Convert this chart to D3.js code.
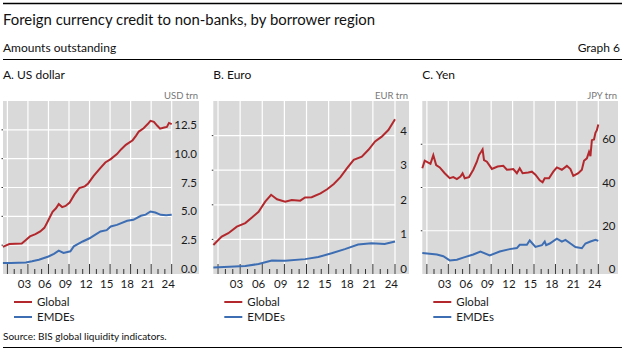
<!DOCTYPE html>
<html>
<head>
<meta charset="utf-8">
<script src="https://cdn.jsdelivr.net/npm/d3@7"></script>
<style>
  body { margin: 0; background: #fff; }
  text { font-family: Lato, "Noto Sans", sans-serif; }
</style>
</head>
<body>
<div id="chart"></div>
<script>
// data (time in decimal years)
var usdGlobalT = [2000.35, 2000.9, 2001.3, 2002.2, 2003.1, 2003.7, 2004.3, 2005.1, 2005.8, 2006.4, 2006.8, 2007.6, 2008.1, 2008.5, 2009.0, 2009.5, 2010.1, 2010.8, 2011.5, 2012.3, 2012.8, 2013.6, 2014.6, 2015.3, 2016.1, 2017.0, 2017.6, 2018.3, 2019.3, 2019.8, 2020.2, 2020.9, 2021.5, 2021.9, 2022.4, 2022.9, 2023.3, 2023.9, 2024.3, 2024.6, 2025.0];
var usdGlobalV = [2.35, 2.5, 2.6, 2.62, 2.65, 2.95, 3.26, 3.45, 3.69, 4.0, 4.45, 5.4, 5.7, 6.06, 5.8, 5.9, 6.2, 6.9, 7.45, 7.6, 7.85, 8.5, 9.2, 9.67, 9.96, 10.4, 10.8, 11.2, 11.6, 12.0, 12.35, 12.64, 13.0, 13.28, 13.2, 12.85, 12.6, 12.7, 12.75, 13.1, 13.0];
var usdEmdeT = [2000.35, 2001.5, 2003.7, 2004.6, 2005.6, 2007.0, 2007.8, 2008.5, 2009.2, 2010.2, 2010.7, 2012.0, 2013.0, 2013.8, 2014.6, 2015.5, 2016.1, 2017.0, 2018.5, 2019.4, 2020.5, 2021.2, 2021.9, 2022.6, 2023.4, 2024.2, 2025.0];
var usdEmdeV = [0.95, 0.95, 1.0, 1.1, 1.24, 1.52, 1.75, 2.02, 1.82, 1.97, 2.4, 2.82, 3.1, 3.4, 3.69, 3.8, 4.12, 4.26, 4.61, 4.7, 5.05, 5.15, 5.42, 5.33, 5.13, 5.1, 5.13];

var eurGlobalT = [2000.37, 2001.5, 2002.4, 2003.55, 2004.7, 2005.6, 2006.5, 2007.4, 2008.2, 2009.0, 2010.1, 2011.0, 2012.15, 2012.8, 2013.7, 2014.9, 2015.8, 2016.7, 2017.6, 2018.5, 2019.4, 2020.5, 2021.4, 2022.3, 2023.2, 2024.1, 2025.0];
var eurGlobalV = [0.84, 1.08, 1.18, 1.37, 1.47, 1.63, 1.8, 2.09, 2.29, 2.16, 2.09, 2.14, 2.12, 2.21, 2.22, 2.33, 2.45, 2.6, 2.8, 3.06, 3.3, 3.39, 3.59, 3.83, 3.97, 4.16, 4.47];
var eurEmdeT = [2000.37, 2004.7, 2006.5, 2008.3, 2010.1, 2012.8, 2014.6, 2016.4, 2018.2, 2020.0, 2021.8, 2023.6, 2025.0];
var eurEmdeV = [0.19, 0.23, 0.29, 0.39, 0.38, 0.43, 0.49, 0.6, 0.72, 0.85, 0.89, 0.87, 0.94];

var jpyGlobalT = [2000.36, 2000.7, 2001.2, 2001.5, 2001.9, 2002.3, 2002.8, 2003.5, 2004.2, 2004.7, 2005.2, 2005.7, 2006.0, 2006.3, 2006.9, 2007.5, 2008.0, 2008.3, 2008.6, 2008.8, 2009.0, 2009.4, 2010.1, 2010.9, 2011.7, 2012.2, 2013.1, 2013.6, 2014.0, 2014.4, 2015.2, 2015.7, 2016.2, 2016.8, 2017.2, 2017.5, 2018.1, 2018.7, 2019.2, 2019.9, 2020.6, 2021.1, 2021.5, 2022.2, 2022.7, 2023.0, 2023.4, 2023.7, 2023.9, 2024.1, 2024.4, 2024.6, 2024.8, 2025.0];
var jpyGlobalV = [48.9, 52.4, 51.5, 51.0, 55.0, 50.4, 49.3, 46.6, 44.3, 44.8, 43.9, 45.1, 46.6, 44.3, 44.8, 48.2, 51.9, 55.0, 56.5, 57.6, 52.7, 51.9, 48.6, 49.7, 50.0, 48.2, 48.5, 46.6, 48.9, 46.6, 46.9, 47.3, 45.9, 43.3, 42.4, 44.3, 44.3, 47.3, 49.3, 48.2, 50.0, 48.5, 45.4, 46.6, 48.2, 52.4, 53.5, 56.5, 54.5, 61.9, 62.2, 65.3, 66.5, 69.1];
var jpyEmdeT = [2000.36, 2002.4, 2003.3, 2004.2, 2005.2, 2006.3, 2007.5, 2008.5, 2009.8, 2011.2, 2012.6, 2013.6, 2014.0, 2015.0, 2015.4, 2016.2, 2017.1, 2017.5, 2017.7, 2018.2, 2019.2, 2019.9, 2020.4, 2021.1, 2021.8, 2022.7, 2023.2, 2023.9, 2024.6, 2025.0];
var jpyEmdeV = [9.7, 9.0, 8.2, 6.3, 6.6, 7.8, 9.0, 10.4, 8.6, 10.4, 11.5, 12.0, 13.5, 13.5, 15.5, 12.5, 13.3, 15.0, 13.3, 14.1, 16.3, 15.0, 15.8, 14.1, 12.5, 11.9, 14.1, 15.0, 15.8, 15.3];

var yearTicks = d3.range(2001, 2026);
var yearLabels = [2003, 2006, 2009, 2012, 2015, 2018, 2021, 2024];

var panelTitles = ["A. US dollar", "B. Euro", "C. Yen"];
var units = ["USD trn", "EUR trn", "JPY trn"];
var yMax = [15, 5, 80];
var yTicks = [[0, 2.5, 5, 7.5, 10, 12.5], [0, 1, 2, 3, 4], [0, 20, 40, 60]];
var yFormat = [d3.format(".1f"), d3.format("d"), d3.format("d")];
var globalT = [usdGlobalT, eurGlobalT, jpyGlobalT];
var globalV = [usdGlobalV, eurGlobalV, jpyGlobalV];
var emdeT = [usdEmdeT, eurEmdeT, jpyEmdeT];
var emdeV = [usdEmdeV, eurEmdeV, jpyEmdeV];

var red = "#b3282d", blue = "#3d6db3";

// panel geometry
var panels = [
  {left: 3, plotRight: 171.7, labelRight: 197, right: 199},
  {left: 213.3, plotRight: 395, labelRight: 407, right: 409},
  {left: 422.3, plotRight: 598.3, labelRight: 615.5, right: 618}
];
var plotTop = 101, plotBottom = 274;

var svg = d3.select("#chart").append("svg")
    .attr("width", 625)
    .attr("height", 351);

// header
svg.append("line").attr("x1", 3).attr("x2", 622).attr("y1", 3.5).attr("y2", 3.5)
    .attr("stroke", "#000").attr("stroke-width", 1.5);
svg.append("text").attr("x", 3).attr("y", 25)
    .attr("font-size", 15.5).attr("fill", "#111")
    .attr("textLength", 372).attr("lengthAdjust", "spacingAndGlyphs")
    .text("Foreign currency credit to non-banks, by borrower region");
svg.append("text").attr("x", 3).attr("y", 52)
    .attr("font-size", 12).attr("fill", "#111")
    .text("Amounts outstanding");
svg.append("text").attr("x", 620).attr("y", 52)
    .attr("font-size", 12).attr("fill", "#111").attr("text-anchor", "end")
    .text("Graph 6");
svg.append("line").attr("x1", 3).attr("x2", 622).attr("y1", 59.5).attr("y2", 59.5)
    .attr("stroke", "#000").attr("stroke-width", 1.2);

panels.forEach(function(p, i) {
  var x = d3.scaleLinear().domain([2000.36, 2025]).range([p.left, p.plotRight]);
  var y = d3.scaleLinear().domain([0, yMax[i]]).range([plotBottom, plotTop]);
  var g = svg.append("g");

  svg.append("text").attr("x", p.left).attr("y", 79)
      .attr("font-size", 12).attr("fill", "#111")
      .text(panelTitles[i]);
  svg.append("text").attr("x", p.right - 1).attr("y", 99)
      .attr("font-size", 9.5).attr("fill", "#777").attr("text-anchor", "end")
      .text(units[i]);

  g.append("rect")
      .attr("x", p.left).attr("y", plotTop)
      .attr("width", p.right - p.left).attr("height", plotBottom - plotTop)
      .attr("fill", "#d9d9d9");

  // grid
  g.selectAll(".vg").data(yearTicks.filter(function(d) { return (d - 2001) % 3 === 0; }))
    .enter().append("line")
      .attr("x1", function(d) { return x(d); }).attr("x2", function(d) { return x(d); })
      .attr("y1", plotTop).attr("y2", plotBottom)
      .attr("stroke", "#fff").attr("stroke-width", 1.2);
  g.selectAll(".hg").data(yTicks[i].filter(function(d) { return d > 0; }))
    .enter().append("line")
      .attr("x1", p.left).attr("x2", p.plotRight)
      .attr("y1", function(d) { return y(d); }).attr("y2", function(d) { return y(d); })
      .attr("stroke", "#fff").attr("stroke-width", 1.2);

  // little left ticks
  g.selectAll(".lt").data(yTicks[i].filter(function(d) { return d > 0; }))
    .enter().append("line")
      .attr("x1", p.left - 1.5).attr("x2", p.left)
      .attr("y1", function(d) { return y(d); }).attr("y2", function(d) { return y(d); })
      .attr("stroke", "#333").attr("stroke-width", 1);

  // y labels
  g.selectAll(".yl").data(yTicks[i])
    .enter().append("text")
      .attr("x", p.labelRight)
      .attr("y", function(d) { return y(d) - 1; })
      .attr("text-anchor", "end")
      .attr("font-size", 11.5).attr("fill", "#1a1a1a")
      .text(function(d) { return yFormat[i](d); });

  // x ticks
  g.selectAll(".xt").data(yearTicks)
    .enter().append("line")
      .attr("x1", function(d) { return x(d); }).attr("x2", function(d) { return x(d); })
      .attr("y1", plotBottom)
      .attr("y2", function(d) { return (d - 2001) % 3 === 0 ? plotBottom - 10 : plotBottom - 5; })
      .attr("stroke", "#333").attr("stroke-width", 1);

  svg.selectAll(".xl" + i).data(yearLabels)
    .enter().append("text")
      .attr("x", function(d) { return x(d + 0.5); })
      .attr("y", 288)
      .attr("text-anchor", "middle")
      .attr("font-size", 11.5).attr("fill", "#1a1a1a")
      .text(function(d) { return d3.format("02d")(d % 100); });

  var line = d3.line()
      .x(function(d) { return x(d[0]); })
      .y(function(d) { return y(d[1]); });

  var gData = d3.zip(globalT[i], globalV[i]);
  var eData = d3.zip(emdeT[i], emdeV[i]);

  g.append("path").datum(eData)
      .attr("d", line).attr("fill", "none")
      .attr("stroke", blue).attr("stroke-width", 2);
  g.append("path").datum(gData)
      .attr("d", line).attr("fill", "none")
      .attr("stroke", red).attr("stroke-width", 2);

  // legend
  var leg = [["Global", red], ["EMDEs", blue]];
  leg.forEach(function(l, j) {
    var ly = 302 + j * 15;
    svg.append("line")
        .attr("x1", p.left + 11).attr("x2", p.left + 29)
        .attr("y1", ly).attr("y2", ly)
        .attr("stroke", l[1]).attr("stroke-width", 2);
    svg.append("text").attr("x", p.left + 34).attr("y", ly + 4)
        .attr("font-size", 11.5).attr("fill", "#1a1a1a")
        .text(l[0]);
  });
});

svg.append("text").attr("x", 3).attr("y", 340)
    .attr("font-size", 10).attr("fill", "#111")
    .text("Source: BIS global liquidity indicators.");
svg.append("line").attr("x1", 3).attr("x2", 622).attr("y1", 347.5).attr("y2", 347.5)
    .attr("stroke", "#000").attr("stroke-width", 1.2);
</script>
</body>
</html>
